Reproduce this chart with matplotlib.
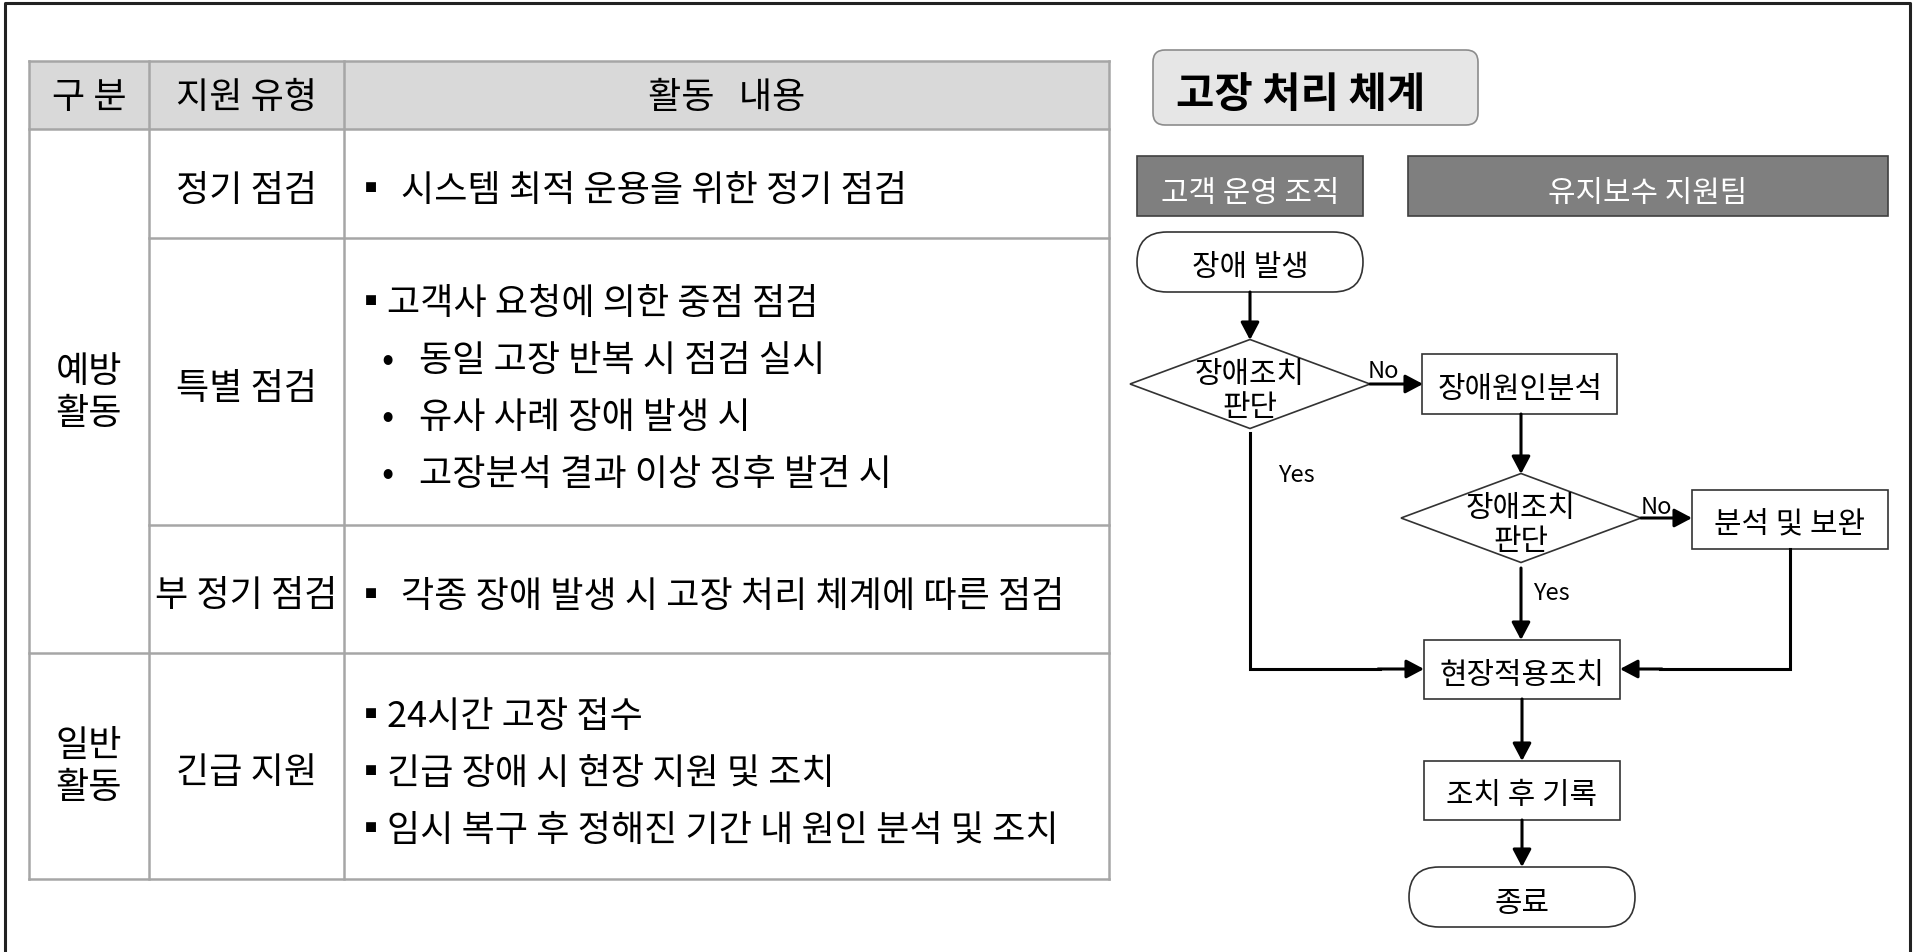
import matplotlib
matplotlib.use('Agg')
import matplotlib.pyplot as plt
from matplotlib.patches import Rectangle, FancyBboxPatch, Polygon

plt.rcParams['font.family'] = ['Noto Sans CJK KR', 'DejaVu Sans']

# ---- table content ----
header = ['구 분', '지원 유형', '활동   내용']
groups = ['예방\n활동', '일반\n활동']
types = ['정기 점검', '특별 점검', '부 정기 점검', '긴급 지원']
# (bullet, text) per line
details = [
    [('▪', '시스템 최적 운용을 위한 정기 점검')],
    [('▪', '고객사 요청에 의한 중점 점검'),
     ('•', '동일 고장 반복 시 점검 실시'),
     ('•', '유사 사례 장애 발생 시'),
     ('•', '고장분석 결과 이상 징후 발견 시')],
    [('▪', '각종 장애 발생 시 고장 처리 체계에 따른 점검')],
    [('▪', '24시간 고장 접수'),
     ('▪', '긴급 장애 시 현장 지원 및 조치'),
     ('▪', '임시 복구 후 정해진 기간 내 원인 분석 및 조치')],
]
wide_gap = [True, False, True, False]  # rows with two spaces after the square bullet

# ---- flowchart content ----
title = '고장 처리 체계'
lanes = ['고객 운영 조직', '유지보수 지원팀']
start_label = '장애 발생'
decision_label = '장애조치\n판단'
analyse_label = '장애원인분석'
fix_label = '분석 및 보완'
apply_label = '현장적용조치'
record_label = '조치 후 기록'
end_label = '종료'

# ---- layout (pixels) ----
col_x = [29, 149, 344, 1109]
row_y = [61, 129, 238, 525, 653, 879]
line_c = '#a6a6a6'
TFS = 26
FFS = 21.5
DY = 7  # noto text sits a bit high with va='center'

fig = plt.figure(figsize=(19.15, 9.52), dpi=100)
ax = fig.add_axes([0, 0, 1, 1])
ax.set_xlim(0, 1915)
ax.set_ylim(952, 0)
ax.axis('off')

# outer frame (left, top, right)
ax.plot([5, 5, 1910, 1910], [960, 3, 3, 960], color='#222222', lw=2.2)

# table header
ax.add_patch(Rectangle((col_x[0], row_y[0]), col_x[3] - col_x[0], row_y[1] - row_y[0],
                       facecolor='#d9d9d9', edgecolor='none'))
for i, h in enumerate(header):
    ax.text((col_x[i] + col_x[i + 1]) / 2, (row_y[0] + row_y[1]) / 2 + DY - 4, h,
            fontsize=TFS, ha='center', va='center')

# grid lines
ax.plot([col_x[0], col_x[3]], [row_y[0]] * 2, color=line_c, lw=1.8)
ax.plot([col_x[0], col_x[3]], [row_y[1]] * 2, color=line_c, lw=1.8)
for y in row_y[2:4]:
    ax.plot([col_x[1], col_x[3]], [y, y], color=line_c, lw=1.8)
for y in row_y[4:]:
    ax.plot([col_x[0], col_x[3]], [y, y], color=line_c, lw=1.8)
for x in col_x:
    ax.plot([x, x], [row_y[0], row_y[-1]], color=line_c, lw=1.8)

# group column
ax.text((col_x[0] + col_x[1]) / 2, (row_y[1] + row_y[4]) / 2 + DY - 5, groups[0],
        fontsize=TFS, ha='center', va='center', linespacing=1.22)
ax.text((col_x[0] + col_x[1]) / 2, (row_y[4] + row_y[5]) / 2 + DY - 6, groups[1],
        fontsize=TFS, ha='center', va='center', linespacing=1.22)

# type column and details
line_gap = 57
for r in range(4):
    y0, y1 = row_y[r + 1], row_y[r + 2]
    yc = (y0 + y1) / 2 + DY
    ax.text((col_x[1] + col_x[2]) / 2, yc, types[r], fontsize=TFS,
            ha='center', va='center')
    lines = details[r]
    n = len(lines)
    for k, (b, s) in enumerate(lines):
        y = yc + 1 + (k - (n - 1) / 2) * line_gap
        if b == '▪':
            ax.text(371, y, b, fontsize=TFS, ha='center', va='center')
            tx = 401 if wide_gap[r] else 387
        else:
            ax.text(388, y, b, fontsize=TFS, ha='center', va='center')
            tx = 419
        ax.text(tx, y, s, fontsize=TFS, ha='left', va='center')

# ---- flowchart ----
ax.add_patch(FancyBboxPatch((1153, 50), 325, 75, boxstyle='round,pad=0,rounding_size=12',
                            facecolor='#e6e6e6', edgecolor='#8c8c8c', lw=1.2))
ax.text(1176, 88 + DY, title, fontsize=30, fontweight='bold', ha='left', va='center')

for (x0, x1), name in zip([(1137, 1363), (1408, 1888)], lanes):
    ax.add_patch(Rectangle((x0, 156), x1 - x0, 60, facecolor='#7f7f7f',
                           edgecolor='#404040', lw=1.2))
    ax.text((x0 + x1) / 2, 186 + DY, name, fontsize=FFS, color='white',
            ha='center', va='center')

edge_c = '#333333'


def stadium(xc, yc, w, h, label):
    ax.add_patch(FancyBboxPatch((xc - w / 2, yc - h / 2), w, h,
                                boxstyle='round,pad=0,rounding_size=%f' % (h / 2),
                                facecolor='white', edgecolor=edge_c, lw=1.2))
    ax.text(xc, yc + DY - 1, label, fontsize=FFS, ha='center', va='center')


def box(xc, yc, w, h, label):
    ax.add_patch(Rectangle((xc - w / 2, yc - h / 2), w, h, facecolor='white',
                           edgecolor=edge_c, lw=1.2))
    ax.text(xc, yc + DY - 1, label, fontsize=FFS, ha='center', va='center')


def diamond(xc, yc, w, h, label):
    pts = [(xc, yc - h / 2), (xc + w / 2, yc), (xc, yc + h / 2), (xc - w / 2, yc)]
    ax.add_patch(Polygon(pts, closed=True, facecolor='white', edgecolor=edge_c, lw=1.2))
    ax.text(xc, yc + DY, label, fontsize=FFS, ha='center', va='center',
            linespacing=1.05)


def arrow(x0, y0, x1, y1):
    ax.annotate('', xy=(x1, y1), xytext=(x0, y0),
                arrowprops=dict(arrowstyle='-|>,head_length=0.85,head_width=0.45',
                                color='black', lw=2.2, mutation_scale=12.5,
                                shrinkA=0, shrinkB=0))


def path(xs, ys):
    ax.plot(xs, ys, color='black', lw=2.2, solid_joinstyle='miter')


stadium(1250, 262, 226, 60, start_label)
diamond(1250, 384, 240, 89, decision_label)
box(1520, 384, 195, 60, analyse_label)
diamond(1521, 518, 240, 89, decision_label)
box(1790, 519, 196, 59, fix_label)
box(1522, 669, 196, 59, apply_label)
box(1522, 790, 196, 59, record_label)
stadium(1522, 897, 226, 60, end_label)

arrow(1250, 292, 1250, 340)
arrow(1370, 384, 1423, 384)
arrow(1521, 414, 1521, 474)
arrow(1641, 518, 1692, 518)
arrow(1521, 568, 1521, 640)
path([1250, 1250, 1380], [433, 669, 669])
arrow(1378, 669, 1424, 669)
path([1790, 1790, 1660], [549, 669, 669])
arrow(1662, 669, 1620, 669)
arrow(1522, 699, 1522, 761)
arrow(1522, 820, 1522, 867)

ax.text(1383, 364 + DY, 'No', fontsize=17, ha='center', va='center')
ax.text(1656, 500 + DY, 'No', fontsize=17, ha='center', va='center')
ax.text(1296, 469 + DY, 'Yes', fontsize=17, ha='center', va='center')
ax.text(1551, 586 + DY, 'Yes', fontsize=17, ha='center', va='center')

fig.savefig('out.png', dpi=100)
